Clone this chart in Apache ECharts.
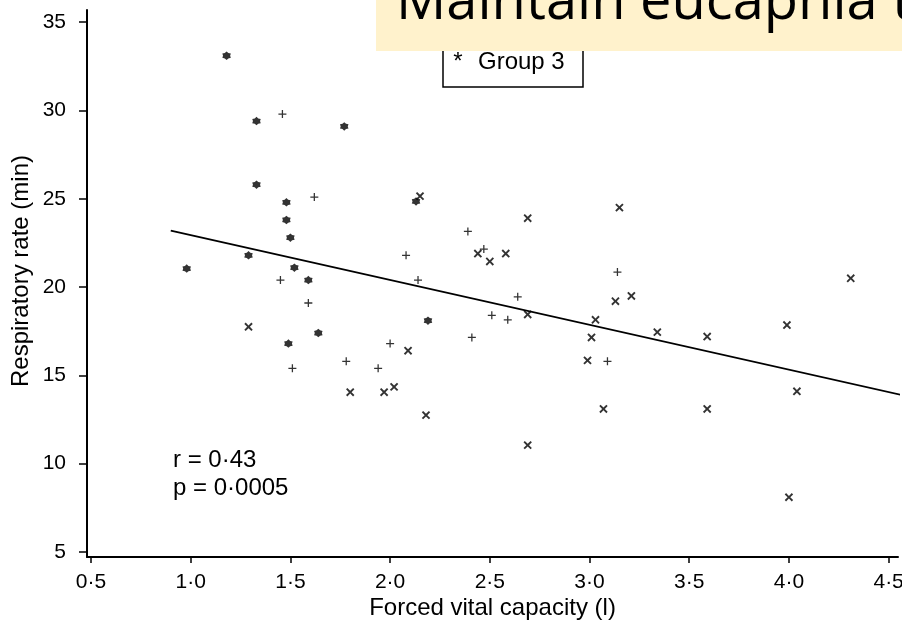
<!DOCTYPE html>
<html><head><meta charset="utf-8">
<script src="https://cdn.jsdelivr.net/npm/echarts@6/dist/echarts.min.js"></script>
<style>html,body{margin:0;padding:0;background:#fff}#c{width:902px;height:620px}</style>
</head><body><div id="c"></div>
<script>
// ---- data ----
const xTicks = [0.5, 1.0, 1.5, 2.0, 2.5, 3.0, 3.5, 4.0, 4.5];
const yTicks = [5, 10, 15, 20, 25, 30, 35];

// Group 1 (x markers)
const g1X = [1.29, 2.09, 1.80, 1.97, 2.02, 2.18, 2.15, 2.69, 3.15, 2.44, 2.50, 2.58, 3.21, 3.13, 2.69, 3.03, 3.01, 2.99, 4.31, 3.99, 3.34, 3.59, 4.04, 3.59, 4.00, 3.07, 2.69];
const g1Y = [17.75, 16.4, 14.05, 14.05, 14.35, 12.75, 25.15, 23.9, 24.5, 21.9, 21.45, 21.9, 19.5, 19.2, 18.45, 18.15, 17.15, 15.85, 20.5, 17.85, 17.45, 17.2, 14.1, 13.1, 8.1, 13.1, 11.05];
// Group 2 (+ markers)
const g2X = [1.46, 1.62, 1.45, 1.59, 1.51, 1.78, 1.94, 2.00, 2.08, 2.39, 2.47, 3.14, 2.14, 2.64, 2.51, 2.59, 2.41, 3.09];
const g2Y = [29.8, 25.1, 20.4, 19.1, 15.4, 15.8, 15.4, 16.8, 21.8, 23.15, 22.15, 20.85, 20.4, 19.45, 18.4, 18.15, 17.15, 15.8];
// Group 3 (* markers)
const g3X = [1.18, 1.33, 1.77, 1.33, 1.48, 1.48, 1.50, 1.29, 0.98, 1.52, 1.59, 1.64, 1.49, 2.19, 2.13];
const g3Y = [33.1, 29.4, 29.1, 25.8, 24.8, 23.8, 22.8, 21.8, 21.05, 21.1, 20.4, 17.4, 16.8, 18.1, 24.85];
// Regression line end points
const fitX = [0.9, 4.6];
const fitY = [23.2, 13.8];

const statLines = ['r = 0·43', 'p = 0·0005'];
const bannerText = 'Maintain eucapnia t';

// ---- helpers ----
const zip = (a, b) => a.map((v, i) => [v, b[i]]);
const plusPath = 'path://M4.2,0H5.8V4.2H10V5.8H5.8V10H4.2V5.8H0V4.2H4.2Z';
const crossPath = 'path://M4.05,0H5.95V4.05H10V5.95H5.95V10H4.05V5.95H0V4.05H4.05Z';
function starPath(n, ro, ri) {
  let d = '';
  for (let i = 0; i < 2 * n; i++) {
    const r = i % 2 ? ri : ro;
    const a = Math.PI * i / n - Math.PI / 2;
    d += (i ? 'L' : 'M') + (5 + r * Math.cos(a)).toFixed(2) + ',' + (5 + r * Math.sin(a)).toFixed(2);
  }
  return 'path://' + d + 'Z';
}
const FONT = 'Liberation Sans, Arial, sans-serif';
const INK = '#000';

const chart = echarts.init(document.getElementById('c'), null, {renderer: 'canvas'});
chart.setOption({
  animation: false,
  backgroundColor: '#fff',
  grid: {left: 87, right: 4, top: 10, bottom: 63, containLabel: false, outerBoundsMode: 'none'},
  xAxis: {
    type: 'value', min: 0.48, max: 4.547,
    axisLine: {lineStyle: {color: INK, width: 2}},
    axisTick: {customValues: xTicks, length: 6, lineStyle: {color: INK, width: 1.5}},
    axisLabel: {customValues: xTicks, fontSize: 21, color: INK, fontFamily: FONT, margin: 15,
      formatter: v => v.toFixed(1).replace('.', '·')},
    splitLine: {show: false},
    name: 'Forced vital capacity (l)', nameLocation: 'middle', nameGap: 39, nameMoveOverlap: false,
    nameTextStyle: {fontSize: 24, color: INK, fontFamily: FONT}
  },
  yAxis: {
    type: 'value', min: 4.717, max: 35.69,
    axisLine: {lineStyle: {color: INK, width: 2}},
    axisTick: {customValues: yTicks, length: 8, lineStyle: {color: INK, width: 1.5}},
    axisLabel: {customValues: yTicks, fontSize: 21, color: INK, fontFamily: FONT, margin: 21},
    splitLine: {show: false},
    name: 'Respiratory rate (min)', nameLocation: 'middle', nameGap: 54, nameMoveOverlap: false,
    nameTextStyle: {fontSize: 24, color: INK, fontFamily: FONT, padding: [0, 0, 0, 25]}
  },
  series: [
    {name: 'Group 1', type: 'scatter', data: zip(g1X, g1Y), symbol: crossPath, symbolRotate: 45,
      symbolSize: 10, itemStyle: {color: INK}},
    {name: 'Group 2', type: 'scatter', data: zip(g2X, g2Y), symbol: plusPath,
      symbolSize: 8, itemStyle: {color: INK}},
    {name: 'Group 3', type: 'scatter', data: zip(g3X, g3Y), symbol: starPath(6, 5, 3.6),
      symbolSize: 8.5, itemStyle: {color: INK}},
    {name: 'Fit', type: 'line', data: zip(fitX, fitY), showSymbol: false, clip: false, silent: true,
      lineStyle: {color: INK, width: 1.8}}
  ],
  graphic: [
    {type: 'text', x: 173, y: 460, z: 10, style: {text: statLines[0], font: '24px ' + FONT, fill: INK, align: 'left', verticalAlign: 'middle'}},
    {type: 'text', x: 173, y: 488, z: 10, style: {text: statLines[1], font: '24px ' + FONT, fill: INK, align: 'left', verticalAlign: 'middle'}},
    {type: 'rect', z: 10, shape: {x: 443, y: -5, width: 140, height: 92}, style: {fill: '#fff', stroke: INK, lineWidth: 1.5}},
    {type: 'text', x: 458, y: 62, z: 11, style: {text: '*', font: '24px ' + FONT, fill: INK, align: 'center', verticalAlign: 'middle'}},
    {type: 'text', x: 478, y: 62, z: 11, style: {text: 'Group 3', font: '24px ' + FONT, fill: INK, align: 'left', verticalAlign: 'middle'}},
    {type: 'rect', z: 20, shape: {x: 376, y: 0, width: 526, height: 51}, style: {fill: '#FFF2CC'}},
    {type: 'text', x: 396, y: 3, z: 21, style: {text: bannerText, font: '56px Open Sans', fill: '#000', align: 'left', verticalAlign: 'middle'}}
  ]
});
</script></body></html>
